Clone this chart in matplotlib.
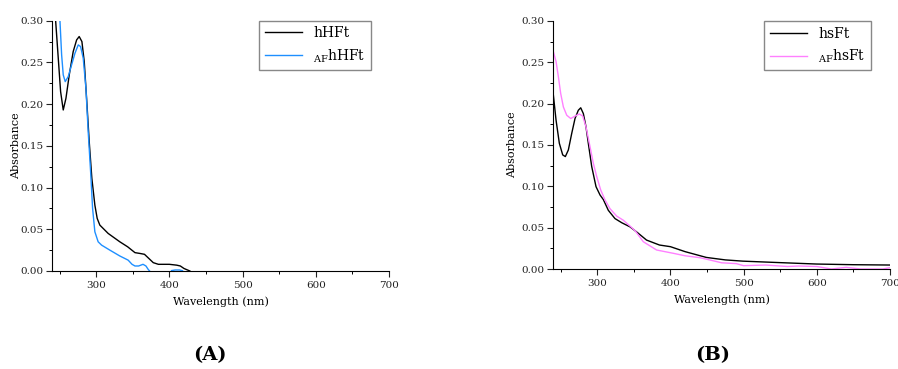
import matplotlib.pyplot as plt
from matplotlib.ticker import MultipleLocator

# Panel A: hHFt / AF-hHFt
wl_a_black = [244.6, 248.2, 251.4, 255, 258.7, 263.2, 268.6, 273.3, 276.8, 280.5, 283.7, 286.9,
              290.5, 294.1, 298.2, 301.4, 305, 316.4, 332.3, 343, 353, 360, 366, 372, 378,
              385, 400, 410, 415, 420, 428]
abs_a_black = [0.30, 0.255, 0.215, 0.193, 0.207, 0.235, 0.263, 0.277, 0.281, 0.275, 0.251, 0.207,
               0.155, 0.111, 0.079, 0.063, 0.055, 0.045, 0.035, 0.029, 0.022, 0.021, 0.020, 0.015, 0.010,
               0.008, 0.008, 0.007, 0.006, 0.003, 0.0]

wl_a_blue = [250.5, 252.8, 255, 257.7, 261.8, 266.4, 271, 275.5, 278.7, 282.3, 286, 289.1, 292.4,
             295.1, 298.2, 302.7, 307.4, 318.7, 332.3, 343.7, 349, 353, 358, 364, 368, 371, 373]
abs_a_blue = [0.30, 0.259, 0.235, 0.227, 0.233, 0.247, 0.261, 0.271, 0.269, 0.255, 0.219, 0.167, 0.119,
              0.075, 0.047, 0.035, 0.031, 0.025, 0.018, 0.013, 0.008, 0.006, 0.006, 0.008, 0.006, 0.002, 0.0]

wl_a_blue2 = [403, 408, 414, 418]
abs_a_blue2 = [0.0005, 0.0012, 0.0012, 0.0003]

# Panel B: hsFt / AF-hsFt
wl_b_black = [240, 243.7, 248.2, 252.8, 256.4, 260.5, 265.1, 269.6, 274.1, 277.4, 281, 284.6, 287.8,
              292.4, 298.3, 303.8, 308.3, 315.1, 324.2, 333.4, 344.7, 355, 367.3, 385, 400, 420,
              449, 475, 499, 550, 600, 650, 700]
abs_b_black = [0.2105, 0.180, 0.152, 0.138, 0.136, 0.144, 0.164, 0.182, 0.192, 0.195, 0.188, 0.172, 0.152,
               0.124, 0.0996, 0.0895, 0.084, 0.071, 0.061, 0.056, 0.051, 0.044, 0.035, 0.029, 0.027, 0.021,
               0.014, 0.011, 0.0095, 0.0077, 0.006, 0.0052, 0.0048]

wl_b_pink = [240, 243.7, 246.8, 250, 253.7, 258.3, 263.8, 269.6, 275.5, 280.1, 284.6, 290.1, 294.6,
             299.2, 304.7, 310.6, 317.4, 326.5, 335.6, 344.7, 352, 362.9, 381, 403.8, 420, 440, 450,
             470, 490, 500, 530, 560, 575, 600, 620, 640, 660, 690, 700]
abs_b_pink = [0.263, 0.251, 0.233, 0.2125, 0.196, 0.186, 0.182, 0.185, 0.1875, 0.185, 0.172, 0.148, 0.128,
              0.112, 0.0956, 0.0835, 0.073, 0.064, 0.059, 0.052, 0.046, 0.033, 0.023, 0.019, 0.016, 0.0137, 0.0117,
              0.0075, 0.0065, 0.004, 0.0048, 0.003, 0.0036, 0.003, 0.0, 0.002, 0.0, 0.0, 0.0016]

plt.rcParams['font.family'] = ['DejaVu Serif']
plt.rcParams['mathtext.fontset'] = 'dejavuserif'

fig = plt.figure(figsize=(8.98, 3.69), dpi=100)
ax_a = fig.add_axes([0.0582, 0.2656, 0.3749, 0.6783])
ax_b = fig.add_axes([0.6162, 0.2710, 0.3749, 0.6721])


def style_axes(ax, ylabel_x):
    ax.set_xlim(240, 700)
    ax.set_ylim(0, 0.30)
    ax.spines['top'].set_visible(False)
    ax.spines['right'].set_visible(False)
    ax.xaxis.set_major_locator(MultipleLocator(100))
    ax.xaxis.set_minor_locator(MultipleLocator(50))
    ax.yaxis.set_major_locator(MultipleLocator(0.05))
    ax.yaxis.set_minor_locator(MultipleLocator(0.025))
    ax.yaxis.set_major_formatter(plt.FormatStrFormatter('%.2f'))
    ax.tick_params(which='major', direction='out', length=4, width=0.8, labelsize=7.5, colors='#222222')
    ax.tick_params(axis='y', which='major', pad=2.5)
    ax.tick_params(which='minor', direction='out', length=2.5, width=0.7)
    ax.set_xlabel('Wavelength (nm)', fontsize=8, labelpad=4)
    ax.set_ylabel('Absorbance', fontsize=8)
    ax.yaxis.set_label_coords(ylabel_x, 0.5)


ax_a.plot(wl_a_black, abs_a_black, color='black', lw=1.0, label='hHFt')
ax_a.plot(wl_a_blue, abs_a_blue, color='#1E8FFF', lw=1.0, label=r'$_{\mathrm{AF}}$hHFt')
ax_a.plot(wl_a_blue2, abs_a_blue2, color='#1E8FFF', lw=1.0)
style_axes(ax_a, -0.094)
ax_a.legend(loc='upper right', bbox_to_anchor=(0.947, 1.0), borderaxespad=0,
            fontsize=10, handlelength=2.7, fancybox=False, edgecolor='#888888',
            framealpha=1)

ax_b.plot(wl_b_black, abs_b_black, color='black', lw=1.0, label='hsFt')
ax_b.plot(wl_b_pink, abs_b_pink, color='#FF80FF', lw=1.0, label=r'$_{\mathrm{AF}}$hsFt')
style_axes(ax_b, -0.108)
ax_b.legend(loc='upper right', bbox_to_anchor=(0.944, 1.0), borderaxespad=0,
            fontsize=10, handlelength=2.7, fancybox=False, edgecolor='#888888',
            framealpha=1)

fig.text(210 / 898, 1 - 355 / 369, '(A)', fontsize=14, fontweight='bold', ha='center', va='center')
fig.text(713 / 898, 1 - 355 / 369, '(B)', fontsize=14, fontweight='bold', ha='center', va='center')

fig.savefig('out.png', dpi=100)
